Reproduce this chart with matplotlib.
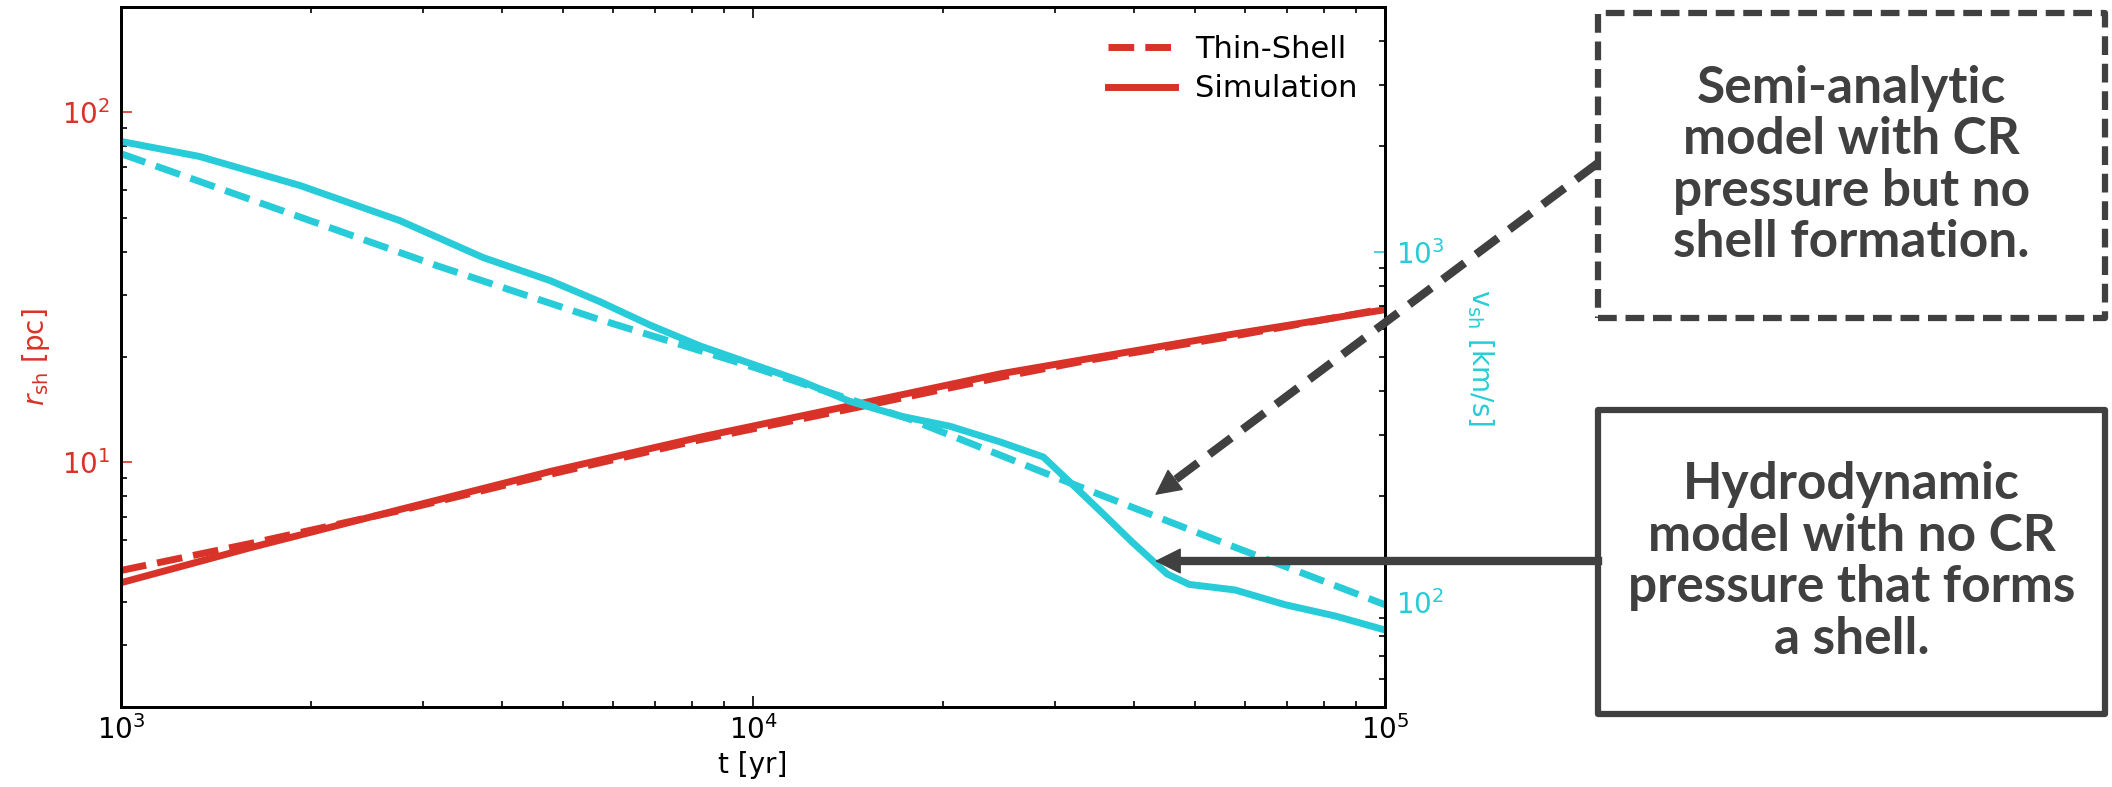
import matplotlib.pyplot as plt
from matplotlib.patches import Rectangle, FancyArrowPatch
from matplotlib.lines import Line2D

# shock radius [pc] vs time [yr]
t_r = [1000, 1600, 2760, 4780, 8240, 14200, 24600, 33500, 57900, 100000]
r_thin = [4.91, 5.86, 7.28, 9.25, 11.6, 14.2, 17.5, 19.5, 23.0, 27.5]
r_sim = [4.53, 5.70, 7.33, 9.42, 11.8, 14.5, 17.9, 19.7, 23.3, 27.3]

# shock velocity [km/s] vs time [yr]
t_v_thin = [1000, 1780, 3160, 5620, 10000, 17800, 31600, 56200, 100000]
v_thin = [1905, 1318, 912, 646, 468, 331, 219, 146, 98]
t_v_sim = [1000, 1330, 1920, 2760, 3740, 4780, 5730, 6870, 8240, 11900, 14200,
           17100, 20500, 24600, 28800, 33500, 35600, 39800, 45200, 49000,
           57900, 69500, 83400, 100000]
v_sim = [2065, 1871, 1545, 1227, 962, 826, 719, 617, 538, 427, 374,
         339, 317, 286, 259, 200, 180, 148, 120, 112,
         108, 98, 91, 83]

box_texts = ['Semi-analytic\nmodel with CR\npressure but no\nshell formation.',
             'Hydrodynamic\nmodel with no CR\npressure that forms\na shell.']

RED = '#d93228'
CYAN = '#28ccd8'
GREY = '#404040'

W, H = 2112, 787
fig = plt.figure(figsize=(W / 100, H / 100), dpi=100)
ax = fig.add_axes([121 / W, 1 - 707 / H, 1264 / W, 700 / H])
ax2 = ax.twinx()

ax.plot(t_r, r_thin, color=RED, lw=5, ls='--', label='Thin-Shell')
ax.plot(t_r, r_sim, color=RED, lw=5, label='Simulation')
ax2.plot(t_v_thin, v_thin, color=CYAN, lw=5, ls='--')
ax2.plot(t_v_sim, v_sim, color=CYAN, lw=5)

ax.set_xscale('log')
ax.set_yscale('log')
ax2.set_yscale('log')
ax.set_xlim(1e3, 1e5)
ax.set_ylim(2, 200)
ax2.set_ylim(50, 5000)

for a in (ax, ax2):
    for s in a.spines.values():
        s.set_linewidth(2)
    a.tick_params(which='both', direction='in', width=1.2)
    a.tick_params(which='major', length=8)
    a.tick_params(which='minor', length=4)

ax.tick_params(which='both', top=True, right=False)
ax.tick_params(axis='x', labelsize=20, pad=6)
ax.tick_params(axis='y', which='major', colors=RED, labelsize=20, pad=8)
ax.tick_params(axis='y', which='minor', colors='k')
ax2.tick_params(axis='y', which='major', colors=CYAN, labelsize=20, pad=8)
ax2.tick_params(axis='y', which='minor', colors='k')

ax.set_xlabel('t [yr]', fontsize=20, labelpad=4)
ax.set_ylabel(r'$r_{\rm sh}$ [pc]', color=RED, fontsize=20, labelpad=7)
ax2.set_ylabel(r'v$_{\rm sh}$ [km/s]', color=CYAN, fontsize=20,
               rotation=270, labelpad=37)

ax.legend(loc='upper right', frameon=False, fontsize=22, handlelength=2.2,
          handletextpad=0.65, labelspacing=0.35)


# --- annotation boxes and arrows (pixel positions of the reference) ---
def fx(x):
    return x / W


def fy(y):
    return 1 - y / H


box_x0, box_x1 = 1598, 2105
boxes = [(13, 318, (0, (3, 1.4))), (410, 714, '-')]
for (y0, y1, ls), txt in zip(boxes, box_texts):
    fig.add_artist(Rectangle((fx(box_x0), fy(y1)), fx(box_x1 - box_x0),
                             (y1 - y0) / H, transform=fig.transFigure,
                             fill=False, ec=GREY, lw=4.5, ls=ls,
                             joinstyle='round'))
    fig.text(fx((box_x0 + box_x1) / 2), fy((y0 + y1) / 2), txt,
             ha='center', va='center', fontsize=37, family='Lato',
             weight='bold', color=GREY, linespacing=1.12)


def arrow(x0, y0, x1, y1, ls):
    L = ((x1 - x0) ** 2 + (y1 - y0) ** 2) ** 0.5
    ux, uy = (x1 - x0) / L, (y1 - y0) / L
    fig.add_artist(Line2D([fx(x0), fx(x1 - 16 * ux)], [fy(y0), fy(y1 - 16 * uy)],
                          transform=fig.transFigure, color=GREY, lw=6, ls=ls))
    fig.add_artist(FancyArrowPatch((fx(x1 - 30 * ux), fy(y1 - 30 * uy)),
                                   (fx(x1), fy(y1)), transform=fig.transFigure,
                                   arrowstyle='-|>,head_length=1.7,head_width=0.85',
                                   mutation_scale=10, color=GREY, lw=1,
                                   shrinkA=0, shrinkB=0))


arrow(box_x0, 163, 1155, 495, (0, (3.3, 1.7)))
arrow(box_x0, 561, 1155, 561, '-')

fig.savefig('out.png', dpi=100)
